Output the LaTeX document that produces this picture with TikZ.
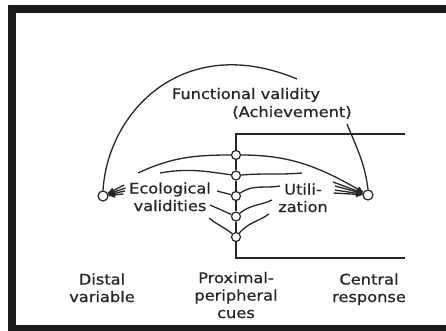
\documentclass[tikz,border=0pt]{standalone}
\usepackage{fontspec}
\setmainfont{DejaVu Sans}[FakeStretch=1.12,FakeBold=0.8]
\usepackage{tikz}
\usetikzlibrary{arrows}
\usetikzlibrary{positioning}
\usetikzlibrary{calc}

\begin{document}
\begin{tikzpicture}
        [x=1pt,y=-1pt,
        cue/.style={circle,draw=black!85,fill=white,line width=1.2pt,inner sep=0pt,minimum size=9pt},
        pole/.style={cue,minimum size=10pt},
        lbl/.style={font=\fontsize{14.5}{17.5}\selectfont,text=black!85,align=center,inner sep=0pt},
        ln/.style={draw=black!85,line width=1.3pt},
        on/.style={ln,->,>=stealth'},
        frame/.style={draw=black!90,line width=8pt},]

\useasboundingbox (0,0) rectangle (446,331);

% Rahmen %
\draw[frame] (446,9) -- (11.5,9) -- (11.5,328.5) -- (446,328.5);

% Pole %
\node[pole] (dist) at (103,196) {};
\node[pole] (cent) at (368,195) {};

% Cues %
\foreach \i in {1,...,5} {\node[cue] (cue\i) at (236,{134.5+20.5*\i}) {};}
\coordinate (tl) at (236,134);
\coordinate (tr) at (405,134);
\coordinate (bl) at (236,258);
\coordinate (br) at (405,258);
\draw[ln] (tr) -- (tl) -- (cue1) -- (cue2) -- (cue3) -- (cue4) -- (cue5) -- (bl) -- (br);

% Labels (base = letzte Zeile) %
\node[lbl,anchor=base] (fv) at (246,99) {Functional validity};
\node[lbl,anchor=base] (ach) at (292,117) {(Achievement)};
\node[lbl,anchor=base] (eco) at (170,211) {Ecological\\validities};
\node[lbl,anchor=base] (util) at (303,212) {Utili-\\zation};
\node[lbl,anchor=base] (dv) at (102,302) {Distal\\variable};
\node[lbl,anchor=base] (pc) at (236,318) {Proximal-\\peripheral\\cues};
\node[lbl,anchor=base] (cr) at (369,302) {Central\\response};

% Functional validity %
\coordinate (fvE) at (297,79);
\coordinate (achS) at (347,124);
\draw[ln] (dist.north) .. controls (108,110) and (185,32) .. (fvE);
\draw[ln] (achS) to[out=-68,in=97] (cent.north);

% Linke Seite %
\coordinate (eL1) at (138,173);
\coordinate (eL2) at (160,173);
\coordinate (eL3) at (217,191);
\coordinate (eL4) at (210,205);
\coordinate (eL5) at (209,218);
\draw[ln] (cue1) to[out=180,in=25] (eL1);
\draw[ln] (cue2) to[out=172,in=10] (eL2);
\draw[ln] (cue3) to[out=165,in=-15] (eL3);
\draw[ln] (cue4) -- (eL4);
\draw[ln] (cue5) to[out=140,in=-40] (eL5);

% Rechte Seite %
\coordinate (eR2) at (302,173);
\coordinate (eR3) at (280,186);
\coordinate (eR4) at (272,200);
\coordinate (eR5) at (269,214);
\draw[on] (cue1) to[out=0,in=150] (cent);
\draw[ln] (cue2) to[out=5,in=185] (eR2);
\draw[ln] (cue3) to[out=35,in=190] (eR3);
\draw[ln] (cue4) to[out=40,in=205] (eR4);
\draw[ln] (cue5) to[out=50,in=215] (eR5);

% Pfeile %
\foreach \i/\yy in {1/185,2/188,3/191,4/194} {\coordinate (ev\i) at ({126-abs(\yy-189)/2},\yy);
        \draw[on] (ev\i) -- (dist);}
\foreach \i/\yy in {1/182,2/186,3/190,4/193} {\coordinate (eu\i) at ({336-abs(\yy-188)/2},\yy);
        \draw[on] (eu\i) -- (cent);}
\end{tikzpicture}
\end{document}
